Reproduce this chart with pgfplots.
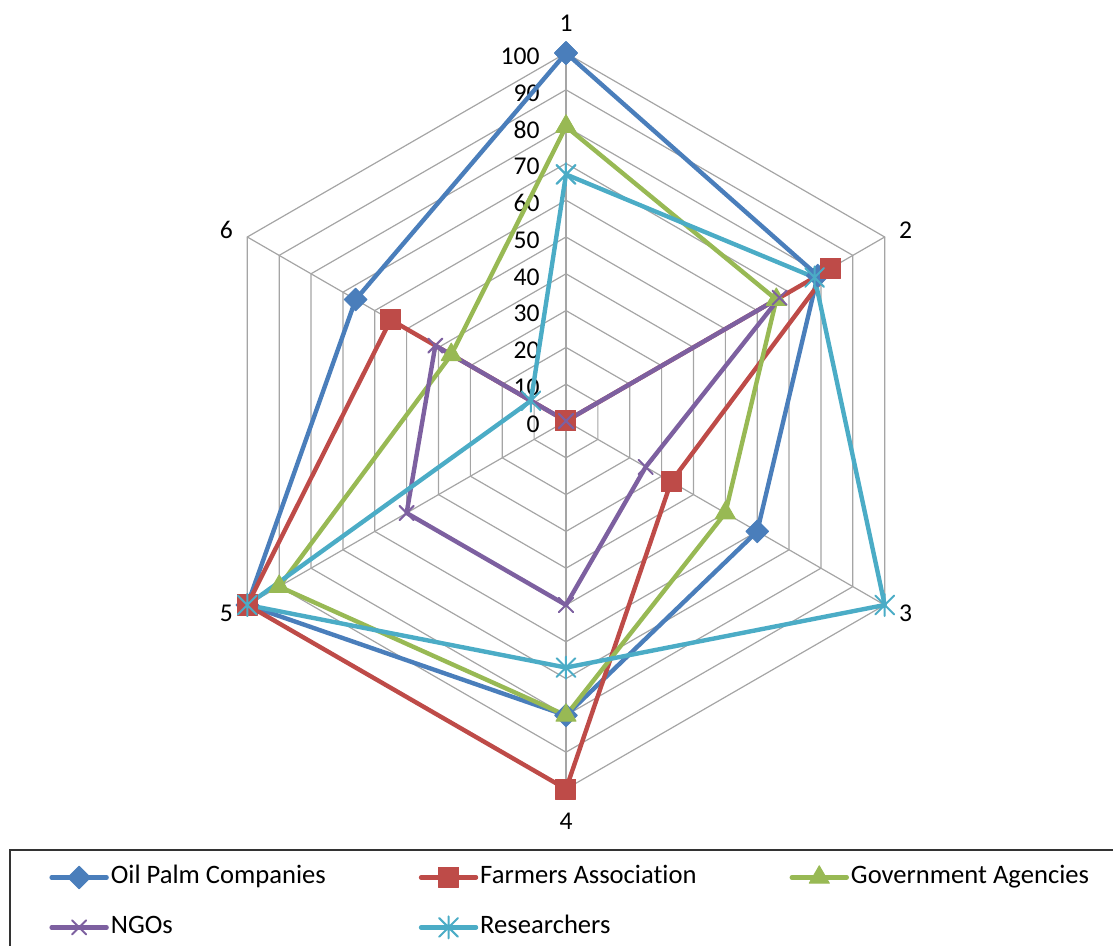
\documentclass[border=0pt]{standalone}
\usepackage{fontspec}
\setmainfont[Ligatures=NoCommon]{Carlito}
\usepackage{pgfplots}
\pgfplotsset{compat=1.18}
\usepgfplotslibrary{polar}

\definecolor{opblue}{RGB}{74,126,187}
\definecolor{fared}{RGB}{190,75,72}
\definecolor{gagreen}{RGB}{152,185,84}
\definecolor{ngopurple}{RGB}{125,96,160}
\definecolor{rescyan}{RGB}{75,172,198}
\definecolor{gridgray}{RGB}{165,165,165}

% star marker: vertical bar plus a cross
\pgfdeclareplotmark{xstar}{%
  \pgfpathmoveto{\pgfqpoint{0pt}{-\pgfplotmarksize}}%
  \pgfpathlineto{\pgfqpoint{0pt}{\pgfplotmarksize}}%
  \pgfpathmoveto{\pgfqpoint{-.85\pgfplotmarksize}{-.85\pgfplotmarksize}}%
  \pgfpathlineto{\pgfqpoint{.85\pgfplotmarksize}{.85\pgfplotmarksize}}%
  \pgfpathmoveto{\pgfqpoint{-.85\pgfplotmarksize}{.85\pgfplotmarksize}}%
  \pgfpathlineto{\pgfqpoint{.85\pgfplotmarksize}{-.85\pgfplotmarksize}}%
  \pgfusepathqstroke}

\newcommand{\lblfont}{\fontsize{12.8pt}{15pt}\selectfont}

\begin{document}
\begin{tikzpicture}
\begin{polaraxis}[
  width=368pt, height=368pt, scale only axis,
  xmin=0, xmax=360, ymin=0, ymax=100,
  hide axis, clip=false,
  legend columns=3,
  legend cell align=left,
  legend style={
    at={(axis description cs:-0.2024,-0.1033)}, anchor=north west,
    draw=none, fill=none, inner sep=0pt,
    font=\fontsize{13.3pt}{15pt}\selectfont,
    nodes={inner xsep=1pt, inner ysep=0pt, text height=9pt, text depth=3pt},
    row sep=13pt,
    /tikz/every even column/.append style={column sep=45.5pt},
  },
  legend image code/.code={%
    \draw[mark repeat=2,mark phase=2] plot coordinates {(0pt,0pt) (13.75pt,0pt) (27.5pt,0pt)};},
  every axis plot/.append style={line width=2.2pt, line join=round, line cap=round},
]
% hexagonal grid rings and spokes
\pgfplotsinvokeforeach{10,20,...,100}{
  \addplot[color=gridgray, line width=0.6pt, forget plot, no marks]
    coordinates {(90,#1) (30,#1) (330,#1) (270,#1) (210,#1) (150,#1) (90,#1)};
}
\pgfplotsinvokeforeach{90,30,330,270,210,150}{
  \addplot[color=gridgray, line width=0.6pt, forget plot, no marks]
    coordinates {(#1,0) (#1,100)};
}

% radial tick labels along the first spoke
\pgfplotsinvokeforeach{0,10,...,100}{
  \node[anchor=east, inner sep=0pt, xshift=-13pt, yshift=-1.5pt, font=\lblfont]
    at (axis cs:90,#1) {#1};
}

% category labels
\node[font=\lblfont] at (axis cs:90,108.1) {1};
\node[font=\lblfont, anchor=west, inner sep=0pt, xshift=7pt, yshift=3.5pt] at (axis cs:30,100) {2};
\node[font=\lblfont, anchor=west, inner sep=0pt, xshift=7pt, yshift=-4pt] at (axis cs:330,100) {3};
\node[font=\lblfont] at (axis cs:270,108.8) {4};
\node[font=\lblfont, anchor=east, inner sep=0pt, xshift=-7pt, yshift=-4pt] at (axis cs:210,100) {5};
\node[font=\lblfont, anchor=east, inner sep=0pt, xshift=-7pt, yshift=3.5pt] at (axis cs:150,100) {6};

% series: axes 1..6 at 90, 30, 330, 270, 210, 150 degrees
\addplot[color=opblue, mark=square*, mark size=4pt,
  mark options={rotate=45, line width=0.5pt, fill=opblue}]
  coordinates {(90,100) (30,79) (330,60) (270,80) (210,100) (150,66) (90,100)};
\addlegendentry{Oil Palm Companies}

\addplot[color=fared, mark=square*, mark size=5pt,
  mark options={line width=0.5pt, fill=fared}]
  coordinates {(90,0) (30,83) (330,33) (270,100) (210,100) (150,55) (90,0)};
\addlegendentry{Farmers Association}

\addplot[color=gagreen, mark=triangle*, mark size=5.8pt,
  mark options={line width=0.5pt, fill=gagreen}]
  coordinates {(90,80) (30,66) (330,50) (270,80) (210,90) (150,36) (90,80)};
\addlegendentry{Government Agencies}

\addplot[color=ngopurple, mark=x, mark size=5pt,
  mark options={line width=1pt}]
  coordinates {(90,0) (30,67) (330,25) (270,50) (210,50) (150,41) (90,0)};
\addlegendentry{NGOs}

\addplot[color=rescyan, mark=xstar, mark size=5.5pt,
  mark options={line width=1pt}]
  coordinates {(90,67) (30,78) (330,100) (270,67) (210,100) (150,11) (90,67)};
\addlegendentry{Researchers}

\coordinate (C) at (axis cs:0,0);
\end{polaraxis}

% legend frame, open to the right and bottom edges
\draw[black!80, line width=0.7pt]
  ([shift={(-278pt,-262.5pt)}]C) -- ([shift={(-278pt,-214.5pt)}]C) -- ([shift={(273.5pt,-214.5pt)}]C);

\pgfresetboundingbox
\path[use as bounding box] ([shift={(-283pt,210.5pt)}]C) rectangle ([shift={(273.5pt,-262.5pt)}]C);
\end{tikzpicture}
\end{document}
